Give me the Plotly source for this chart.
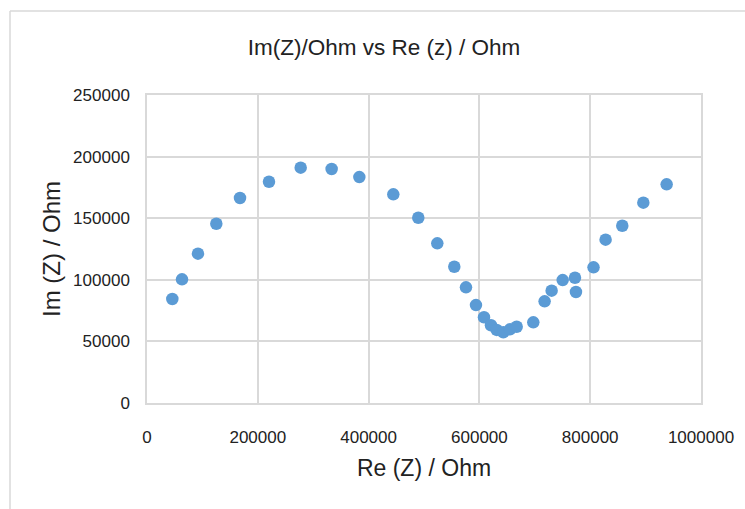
import plotly.graph_objects as go

re_z = [45700, 63200, 92000, 125100, 167900, 220200, 277400, 333300, 383300, 444600,
        489700, 524000, 554700, 575800, 593800, 608300, 620900, 631200, 643200, 655200,
        667300, 697300, 717700, 730400, 750300, 772500, 774300, 806000, 827800, 857900,
        895900, 938000]
im_z = [84400, 100400, 121200, 145500, 166400, 179600, 191000, 189900, 183400, 169400,
        150400, 129600, 110600, 93900, 79500, 69600, 63100, 59300, 57400, 59800,
        61900, 65500, 82500, 91200, 99800, 101700, 90100, 110100, 132600, 143900,
        162600, 177500]

title_text = "Im(Z)/Ohm vs Re (z) / Ohm"
x_title = "Re (Z) / Ohm"
y_title = "Im (Z) / Ohm"

FONT = "Liberation Sans, Arial, sans-serif"
grid = "#d9d9d9"
txt = "#222222"

fig = go.Figure()
fig.add_trace(go.Scatter(
    x=re_z, y=im_z, mode="markers",
    marker=dict(color="#5B9BD5", size=12.5, line=dict(width=0)),
    showlegend=False,
))

L, R, T, B = 147, 44, 95, 106
pw = 745 - L - R
ph = 509 - T - B

def px_to_paper_x(px):
    return (px - L) / pw

def px_to_paper_y(py):
    return (509 - B - py) / ph

# outer chart border (left and top)
fig.add_shape(type="line", xref="paper", yref="paper",
              x0=px_to_paper_x(10), x1=px_to_paper_x(10),
              y0=px_to_paper_y(520), y1=px_to_paper_y(11),
              line=dict(color="#d9d9d9", width=1.5))
fig.add_shape(type="line", xref="paper", yref="paper",
              x0=px_to_paper_x(10), x1=px_to_paper_x(760),
              y0=px_to_paper_y(11), y1=px_to_paper_y(11),
              line=dict(color="#d9d9d9", width=1.5))

fig.update_layout(
    width=745, height=509,
    margin=dict(l=L, r=R, t=T, b=B),
    paper_bgcolor="white", plot_bgcolor="white",
    font=dict(family=FONT, color=txt),
    title=dict(text=title_text, x=384/745, xanchor="center", xref="container",
               y=1 - 47/509, yanchor="middle", yref="container",
               font=dict(size=22.5, family=FONT, color=txt)),
    xaxis=dict(range=[0, 1000000], dtick=200000, tickformat="d",
               showgrid=True, gridcolor=grid, gridwidth=1.5,
               showline=True, linecolor=grid, linewidth=1.5, mirror=True,
               zeroline=False, ticks="", ticklabelstandoff=18,
               tickfont=dict(size=17, family=FONT, color=txt),
               title=dict(text=x_title, standoff=14,
                          font=dict(size=23, family=FONT, color=txt))),
    yaxis=dict(range=[0, 250000], dtick=50000, tickformat="d",
               showgrid=True, gridcolor=grid, gridwidth=1.5,
               showline=True, linecolor=grid, linewidth=1.5, mirror=True,
               zeroline=False, ticks="", ticklabelstandoff=12,
               tickfont=dict(size=17, family=FONT, color=txt),
               title=dict(text=y_title, standoff=6,
                          font=dict(size=24, family=FONT, color=txt))),
)

fig.write_html("out.html")
